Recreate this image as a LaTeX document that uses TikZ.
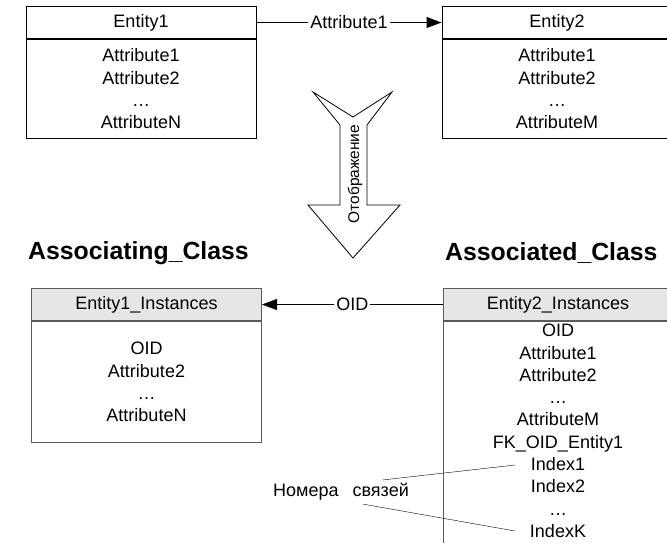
\documentclass[tikz,border=0pt]{standalone}
\usepackage{fontspec}
\setmainfont{Liberation Sans}
\usetikzlibrary{arrows.meta}
\definecolor{headfill}{RGB}{230,230,230}
\definecolor{framegray}{RGB}{90,90,90}
\tikzset{
  every node/.style={font=\fontsize{18}{22.3}\selectfont},
  boxhead/.style={draw, line width=1pt, minimum width=230pt, minimum height=32pt, inner sep=0pt, anchor=north},
  boxbody/.style={draw, line width=1pt, minimum width=230pt, inner sep=0pt, anchor=north, align=center},
  rows/.style={align=center, inner sep=3pt, anchor=north},
  conn/.style={line width=1pt, -{Triangle[length=15pt,width=11pt]}},
  lbl/.style={fill=white, inner sep=2pt},
  classtitle/.style={font=\fontsize{24.8}{28}\selectfont\bfseries, anchor=west, inner sep=0pt},
}
\begin{document}
\begin{tikzpicture}[x=1pt,y=-1pt]
	\useasboundingbox (0,0) rectangle (667,542);
	\clip (0,0) rectangle (667,542);
	% Entity1, Entity2
	\node[boxhead] (e1h) at (141,6) {Entity1};
	\node[boxbody, minimum height=99pt] (e1b) at (e1h.south) {Attribute1\\Attribute2\\…\\AttributeN};
	\node[boxhead] (e2h) at (557,6) {Entity2};
	\node[boxbody, minimum height=99pt] (e2b) at (e2h.south) {Attribute1\\Attribute2\\…\\AttributeM};
	\draw[conn] (e1h) -- node[lbl] (a1) {Attribute1} (e2h);
	% Стрелка отображения
	\draw[line width=0.8pt] (313,92) -- (353,117) -- (392,92) -- (367,125) -- (367,205) -- (400,205)
		-- (353,258) -- (308,205) -- (340,205) -- (340,125) -- cycle;
	\node[rotate=90, font=\fontsize{15.5}{17}\selectfont] (otob) at (355,174) {Отображение};
	% Заголовки классов
	\node[classtitle] (lcls) at (28,253) {Associating\_Class};
	\node[classtitle] (rcls) at (445,253) {Associated\_Class};
	% Entity1_Instances
	\node[boxhead, fill=headfill, draw=framegray] (i1h) at (146.5,288) {Entity1\_Instances};
	\node[boxbody, draw=framegray, minimum height=121pt] (i1b) at (i1h.south) {OID\\Attribute2\\…\\AttributeN};
	% Entity2_Instances
	\node[boxhead, fill=headfill, draw=framegray] (i2h) at (558,288) {Entity2\_Instances};
	\node[boxbody, draw=framegray, minimum height=240pt] (i2b) at (i2h.south) {};
	\node[rows] (i2t) at (i2b.north) {OID\\Attribute1\\Attribute2\\…\\AttributeM\\FK\_OID\_Entity1\\Index1\\Index2\\…\\IndexK};
	\draw[conn] (i2h) -- node[lbl] (oid) {OID} (i1h);
	% Номера связей
	\node (nums) at (341,492) {Номера\hspace{14pt}связей};
	\coordinate (ix1) at (515,465);
	\coordinate (ixk) at (515,531);
	\draw ([xshift=42pt]nums.north) -- (ix1);
	\draw ([xshift=22pt]nums.south) -- (ixk);
\end{tikzpicture}
\end{document}
